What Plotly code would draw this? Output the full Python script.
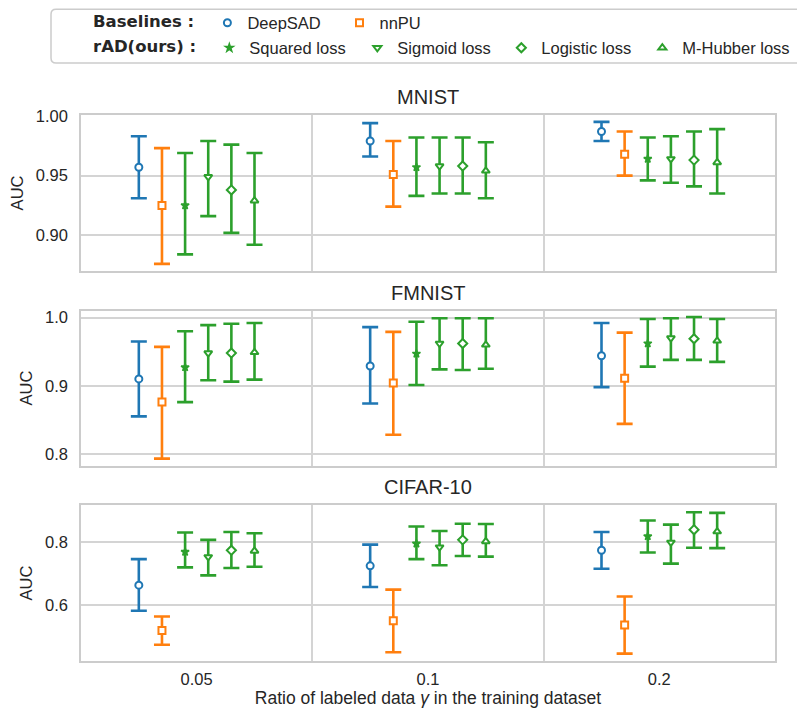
import numpy as np
import plotly.graph_objects as go

# ---------------- data ----------------
ratios = ["0.05", "0.1", "0.2"]
methods = ["DeepSAD", "nnPU", "Squared loss", "Sigmoid loss", "Logistic loss", "M-Hubber loss"]
datasets = ["MNIST", "FMNIST", "CIFAR-10"]

mnist_mean = {
    "DeepSAD": [0.957, 0.979, 0.987],
    "nnPU": [0.925, 0.951, 0.968],
    "Squared loss": [0.925, 0.957, 0.964],
    "Sigmoid loss": [0.949, 0.958, 0.964],
    "Logistic loss": [0.938, 0.958, 0.963],
    "M-Hubber loss": [0.929, 0.954, 0.961],
}
mnist_low = {
    "DeepSAD": [0.931, 0.966, 0.979],
    "nnPU": [0.876, 0.924, 0.950],
    "Squared loss": [0.884, 0.933, 0.946],
    "Sigmoid loss": [0.916, 0.935, 0.944],
    "Logistic loss": [0.902, 0.935, 0.941],
    "M-Hubber loss": [0.892, 0.931, 0.935],
}
mnist_high = {
    "DeepSAD": [0.983, 0.994, 0.995],
    "nnPU": [0.973, 0.979, 0.987],
    "Squared loss": [0.969, 0.982, 0.982],
    "Sigmoid loss": [0.979, 0.982, 0.983],
    "Logistic loss": [0.976, 0.982, 0.987],
    "M-Hubber loss": [0.969, 0.978, 0.989],
}

fmnist_mean = {
    "DeepSAD": [0.910, 0.929, 0.944],
    "nnPU": [0.876, 0.904, 0.911],
    "Squared loss": [0.927, 0.947, 0.962],
    "Sigmoid loss": [0.948, 0.962, 0.970],
    "Logistic loss": [0.948, 0.962, 0.969],
    "M-Hubber loss": [0.949, 0.960, 0.966],
}
fmnist_low = {
    "DeepSAD": [0.855, 0.874, 0.898],
    "nnPU": [0.793, 0.828, 0.844],
    "Squared loss": [0.876, 0.901, 0.928],
    "Sigmoid loss": [0.908, 0.924, 0.938],
    "Logistic loss": [0.906, 0.923, 0.938],
    "M-Hubber loss": [0.909, 0.925, 0.935],
}
fmnist_high = {
    "DeepSAD": [0.965, 0.986, 0.992],
    "nnPU": [0.957, 0.979, 0.978],
    "Squared loss": [0.980, 0.994, 0.998],
    "Sigmoid loss": [0.989, 0.999, 0.999],
    "Logistic loss": [0.991, 0.999, 1.001],
    "M-Hubber loss": [0.992, 0.999, 0.998],
}

cifar_mean = {
    "DeepSAD": [0.664, 0.725, 0.774],
    "nnPU": [0.521, 0.552, 0.538],
    "Squared loss": [0.769, 0.795, 0.818],
    "Sigmoid loss": [0.753, 0.784, 0.799],
    "Logistic loss": [0.774, 0.807, 0.839],
    "M-Hubber loss": [0.772, 0.802, 0.833],
}
cifar_low = {
    "DeepSAD": [0.583, 0.658, 0.716],
    "nnPU": [0.476, 0.452, 0.448],
    "Squared loss": [0.720, 0.746, 0.767],
    "Sigmoid loss": [0.695, 0.727, 0.732],
    "Logistic loss": [0.718, 0.756, 0.782],
    "M-Hubber loss": [0.722, 0.754, 0.781],
}
cifar_high = {
    "DeepSAD": [0.746, 0.792, 0.832],
    "nnPU": [0.565, 0.650, 0.628],
    "Squared loss": [0.830, 0.849, 0.868],
    "Sigmoid loss": [0.807, 0.835, 0.855],
    "Logistic loss": [0.832, 0.858, 0.894],
    "M-Hubber loss": [0.828, 0.857, 0.892],
}

# ---------------- styling ----------------
BLUE, ORANGE, GREEN = "#1f77b4", "#ff7f0e", "#2ca02c"
colors = {"DeepSAD": BLUE, "nnPU": ORANGE, "Squared loss": GREEN,
          "Sigmoid loss": GREEN, "Logistic loss": GREEN, "M-Hubber loss": GREEN}
symbols = {"DeepSAD": "circle", "nnPU": "square", "Squared loss": "star",
           "Sigmoid loss": "triangle-down", "Logistic loss": "diamond",
           "M-Hubber loss": "triangle-up"}
sizes = {"DeepSAD": 7, "nnPU": 7, "Squared loss": 6, "Sigmoid loss": 7,
         "Logistic loss": 7, "M-Hubber loss": 7}
lwidths = {"DeepSAD": 2, "nnPU": 2, "Squared loss": 1.5, "Sigmoid loss": 2,
           "Logistic loss": 2, "M-Hubber loss": 2}
legend_of = {"DeepSAD": "legend", "nnPU": "legend3", "Squared loss": "legend2",
             "Sigmoid loss": "legend2", "Logistic loss": "legend2", "M-Hubber loss": "legend2"}
legend_w = {"DeepSAD": 100, "nnPU": 100, "Squared loss": 103, "Sigmoid loss": 99,
            "Logistic loss": 96, "M-Hubber loss": 116}

TXT = "#262626"
GRID = "#d4d4d4"
FONT = "Liberation Sans, Arial, sans-serif"

W, H = 797, 713
ML, MR, MT, MB = 81, 22, 115, 713 - 661.3
PW = W - ML - MR
PH = H - MT - MB
panels_px = [(115, 271), (310.7, 465.7), (505.3, 661.3)]


def py(p):
    return (H - MB - p) / PH


def px(p):
    return (p - ML) / PW


offsets = np.linspace(-0.25, 0.25, len(methods))
data_sets = [(mnist_mean, mnist_low, mnist_high),
             (fmnist_mean, fmnist_low, fmnist_high),
             (cifar_mean, cifar_low, cifar_high)]
yranges = [[0.8701, 1.0008], [0.7829, 1.0103], [0.4246, 0.9167]]
ytickvals = [[0.90, 0.95, 1.00], [0.8, 0.9, 1.0], [0.6, 0.8]]
yfmt = [".2f", ".1f", ".1f"]

fig = go.Figure()

for d, (mean, low, high) in enumerate(data_sets):
    xa = "x" if d == 0 else f"x{d+1}"
    ya = "y" if d == 0 else f"y{d+1}"
    for k, m in enumerate(methods):
        xs = [i + offsets[k] for i in range(len(ratios))]
        ys = mean[m]
        up = [h - v for h, v in zip(high[m], ys)]
        dn = [v - l for v, l in zip(ys, low[m])]
        c = colors[m]
        fill = c if symbols[m] == "star" else "white"
        fig.add_trace(go.Scatter(
            x=xs, y=ys, mode="markers", name=m,
            xaxis=xa, yaxis=ya,
            legend=legend_of[m], showlegend=(d == 0), legendwidth=legend_w[m],
            marker=dict(symbol=symbols[m], size=sizes[m], color=fill,
                        line=dict(color=c, width=lwidths[m])),
            error_y=dict(type="data", symmetric=False, array=up, arrayminus=dn,
                         color=c, thickness=2.6, width=8),
        ))

layout = dict(
    width=W, height=H,
    margin=dict(l=ML, r=MR, t=MT, b=MB, autoexpand=False),
    paper_bgcolor="white", plot_bgcolor="white",
    font=dict(family=FONT, size=16.5, color=TXT),
    template="none",
    showlegend=True,
)

for d in range(3):
    top, bot = panels_px[d]
    sfx = "" if d == 0 else str(d + 1)
    layout[f"xaxis{sfx}"] = dict(
        domain=[0, 1], anchor=f"y{sfx}", range=[-0.5, 2.5],
        tickvals=[0, 1, 2], ticktext=ratios, showticklabels=(d == 2),
        ticks="outside", ticklen=2, tickcolor="rgba(0,0,0,0)",
        showgrid=False, zeroline=False,
        minor=dict(tickvals=[0.5, 1.5], showgrid=True, gridcolor=GRID, gridwidth=1.5, ticks=""),
        showline=True, mirror=True, linecolor="#cccccc", linewidth=1.6,
        tickfont=dict(size=16.5, color=TXT), automargin=False,
        matches=None if d == 0 else "x",
    )
    layout[f"yaxis{sfx}"] = dict(
        domain=[py(bot), py(top)], anchor=f"x{sfx}", range=yranges[d],
        tickvals=ytickvals[d], tickformat=yfmt[d],
        ticks="outside", ticklen=8, tickcolor="rgba(0,0,0,0)",
        showgrid=True, gridcolor=GRID, gridwidth=1.5, zeroline=False,
        showline=True, mirror=True, linecolor="#cccccc", linewidth=1.6,
        tickfont=dict(size=16.5, color=TXT), automargin=False,
        title=dict(text="AUC", font=dict(size=16.5, color=TXT), standoff=8),
    )

layout["xaxis3"]["title"] = dict(
    text="Ratio of labeled data <i>γ</i> in the training dataset",
    font=dict(size=17.5, color=TXT), standoff=1)

annotations = []
for d in range(3):
    top, bot = panels_px[d]
    annotations.append(dict(
        text=datasets[d], xref="paper", yref="paper", x=0.5, y=py(top),
        xanchor="center", yanchor="middle", yshift=18, showarrow=False,
        font=dict(size=20, color=TXT, family=FONT)))
layout["annotations"] = annotations

NB = "\u00a0"
leg_common = dict(
    orientation="h", xanchor="left", yanchor="middle",
    bgcolor="rgba(0,0,0,0)", borderwidth=12, bordercolor="rgba(0,0,0,0)",
    font=dict(size=16.5, color=TXT, family=FONT),
    entrywidth=100, entrywidthmode="pixels", itemsizing="trace",
)
layout["legend"] = dict(
    leg_common, x=px(79), y=py(23),
    title=dict(text="<b>Baselines :</b>" + NB, side="left",
               font=dict(family="DejaVu Sans", size=16.5, color=TXT)))
layout["legend2"] = dict(
    leg_common, x=px(79), y=py(48),
    title=dict(text="<b>rAD(ours) :</b>" + NB, side="left",
               font=dict(family="DejaVu Sans", size=16.5, color=TXT)))
layout["legend3"] = dict(
    leg_common, x=px(339.5), y=py(23), borderwidth=0)

# rounded legend frame
x0, x1 = px(51), px(805)
y0, y1 = py(63), py(9.3)
rx, ry = 5 / PW, 5 / PH
path = (f"M {x0+rx},{y0} L {x1-rx},{y0} Q {x1},{y0} {x1},{y0+ry} "
        f"L {x1},{y1-ry} Q {x1},{y1} {x1-rx},{y1} L {x0+rx},{y1} "
        f"Q {x0},{y1} {x0},{y1-ry} L {x0},{y0+ry} Q {x0},{y0} {x0+rx},{y0} Z")
layout["shapes"] = [dict(type="path", path=path, xref="paper", yref="paper",
                         line=dict(color="#cccccc", width=1.5), fillcolor="white",
                         layer="below")]

fig.update_layout(**layout)
fig.write_html("out.html", config={"displayModeBar": False},
               post_script="document.body.style.margin='0';")
